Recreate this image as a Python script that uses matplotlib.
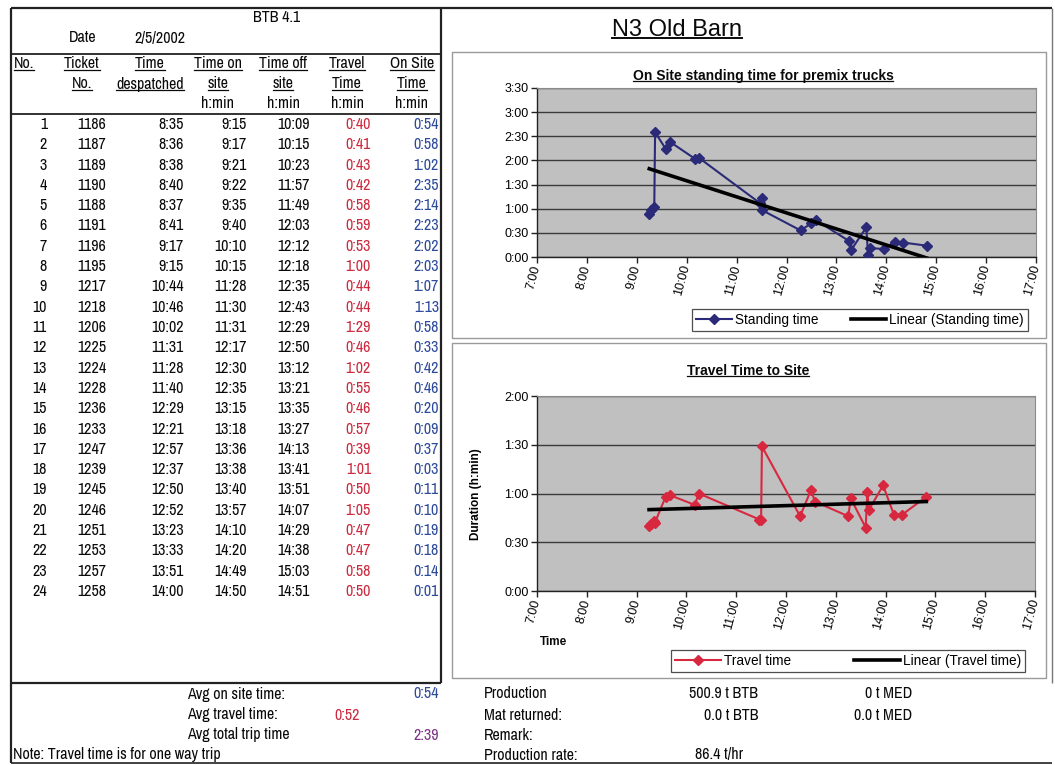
import numpy as np
import matplotlib
matplotlib.use("Agg")
import matplotlib.pyplot as plt
from matplotlib.lines import Line2D
from matplotlib.patches import Rectangle
from matplotlib.transforms import IdentityTransform
from matplotlib.ticker import MultipleLocator, FuncFormatter

W, H = 1055, 765
plt.rcParams['font.family'] = ['Archivo Narrow', 'Liberation Sans', 'DejaVu Sans']

# delivery log, BTB 4.1, 2/5/2002
ticket_no = [1186, 1187, 1189, 1190, 1188, 1191, 1196, 1195, 1217, 1218, 1206, 1225,
             1224, 1228, 1236, 1233, 1247, 1239, 1245, 1246, 1251, 1253, 1257, 1258]
time_despatched = ["8:35", "8:36", "8:38", "8:40", "8:37", "8:41", "9:17", "9:15",
                   "10:44", "10:46", "10:02", "11:31", "11:28", "11:40", "12:29", "12:21",
                   "12:57", "12:37", "12:50", "12:52", "13:23", "13:33", "13:51", "14:00"]
time_on_site = ["9:15", "9:17", "9:21", "9:22", "9:35", "9:40", "10:10", "10:15",
                "11:28", "11:30", "11:31", "12:17", "12:30", "12:35", "13:15", "13:18",
                "13:36", "13:38", "13:40", "13:57", "14:10", "14:20", "14:49", "14:50"]
time_off_site = ["10:09", "10:15", "10:23", "11:57", "11:49", "12:03", "12:12", "12:18",
                 "12:35", "12:43", "12:29", "12:50", "13:12", "13:21", "13:35", "13:27",
                 "14:13", "13:41", "13:51", "14:07", "14:29", "14:38", "15:03", "14:51"]
travel_time = ["0:40", "0:41", "0:43", "0:42", "0:58", "0:59", "0:53", "1:00",
               "0:44", "0:44", "1:29", "0:46", "1:02", "0:55", "0:46", "0:57",
               "0:39", "1:01", "0:50", "1:05", "0:47", "0:47", "0:58", "0:50"]
on_site_time = ["0:54", "0:58", "1:02", "2:35", "2:14", "2:23", "2:02", "2:03",
                "1:07", "1:13", "0:58", "0:33", "0:42", "0:46", "0:20", "0:09",
                "0:37", "0:03", "0:11", "0:10", "0:19", "0:18", "0:14", "0:01"]
n_charted = 23  # rows carried into the charts

avg_on_site = "0:54"
avg_travel = "0:52"
avg_trip = "2:39"

RED = '#cc2a3f'
BLUE = '#2d4b9a'
PURPLE = '#7b3584'
NAVY = '#2a2a78'
CRIMSON = '#d8283f'
FS = 11.5


def hours(s):
    h, m = s.split(':')
    return int(h) + int(m) / 60.0


def hmm(v, pos=None):
    total = int(round(v * 60))
    return f"{total // 60}:{total % 60:02d}"


fig = plt.figure(figsize=(W / 100, H / 100), dpi=100)
fig.patch.set_facecolor('white')


def put(x, y, s, ha='left', size=FS, color='#0a0a0a', **kw):
    return fig.text(x / W, 1 - y / H, s, ha=ha, va='center', fontsize=size,
                    color=color, **kw)


def rule(x0, y0, x1, y1, lw=1.3, color='#222222'):
    fig.add_artist(Line2D([x0 / W, x1 / W], [1 - y0 / H, 1 - y1 / H],
                          color=color, lw=lw, solid_capstyle='butt'))


underlined = []

# ---- page frame and table box
rule(11, 8, 1052, 8, lw=1.6)
rule(11, 8, 11, 763, lw=1.6)
rule(11, 763, 1052, 763, lw=1.2)
rule(1052, 8, 1052, 683, lw=1.0, color='#777777')
rule(441, 8, 441, 683, lw=1.6)
rule(11, 683, 441, 683, lw=1.6)
rule(11, 54, 441, 54, lw=1.3)
rule(11, 114, 441, 114, lw=1.3)

# ---- table header
put(277, 17, "BTB 4.1", ha='center')
put(83, 38, "Date", ha='center')
put(160, 38, "2/5/2002", ha='center')

headers = [
    (14, 'left', ["No."]),
    (82, 'center', ["Ticket", "No."]),
    (150, 'center', ["Time", "despatched"]),
    (218, 'center', ["Time on", "site", "h:min"]),
    (283, 'center', ["Time off", "site", "h:min"]),
    (347, 'center', ["Travel", "Time", "h:min"]),
    (412, 'center', ["On Site", "Time", "h:min"]),
]
header_y = [64, 84, 104]
for x, ha, lines in headers:
    for k, s in enumerate(lines):
        t = put(x, header_y[k], s, ha=ha)
        if s != "h:min":
            underlined.append(t)

# ---- table body
row_y0, row_step = 124.5, 20.3
for i in range(len(ticket_no)):
    y = row_y0 + i * row_step
    put(47, y, str(i + 1), ha='right')
    put(106, y, str(ticket_no[i]), ha='right')
    put(184, y, time_despatched[i], ha='right')
    put(247, y, time_on_site[i], ha='right')
    put(310, y, time_off_site[i], ha='right')
    put(371, y, travel_time[i], ha='right', color=RED)
    put(439, y, on_site_time[i], ha='right', color=BLUE)

# ---- averages and notes
put(187, 694, "Avg on site time:")
put(187, 715, "Avg travel time:")
put(187, 735, "Avg total trip time")
put(439, 694, avg_on_site, ha='right', color=BLUE)
put(360, 715, avg_travel, ha='right', color=RED)
put(439, 735, avg_trip, ha='right', color=PURPLE)
put(13, 755, "Note: Travel time is for one way trip")

put(484, 694, "Production")
put(484, 715, "Mat returned:")
put(484, 735, "Remark:")
put(484, 755, "Production rate:")
put(758, 694, "500.9 t BTB", ha='right')
put(912, 694, "0 t MED", ha='right')
put(758, 715, "0.0 t BTB", ha='right')
put(912, 715, "0.0 t MED", ha='right')
put(743, 755, "86.4 t/hr", ha='right')

# ---- right panel title
underlined.append(put(677, 30, "N3 Old Barn", ha='center', size=17,
                      family=['Liberation Sans', 'DejaVu Sans']))

# chart frames
for (x0, y0, x1, y1) in [(452, 52, 1046, 338), (452, 343, 1046, 678)]:
    fig.add_artist(Rectangle((x0 / W, 1 - y1 / H), (x1 - x0) / W, (y1 - y0) / H,
                             fill=False, edgecolor='#9a9a9a', lw=1.0))

x_on = np.array([hours(s) for s in time_on_site[:n_charted]])
y_stand = np.array([hours(s) for s in on_site_time[:n_charted]])
y_travel = np.array([hours(s) for s in travel_time[:n_charted]])

sans = ['Liberation Sans', 'DejaVu Sans']


def make_axes(box, ymax, series_y, color, label):
    x0, y0, x1, y1 = box
    ax = fig.add_axes([x0 / W, 1 - y1 / H, (x1 - x0) / W, (y1 - y0) / H])
    ax.set_facecolor('#c0c0c0')
    ax.set_xlim(7, 17)
    ax.set_ylim(0, ymax)
    ax.xaxis.set_major_locator(MultipleLocator(1))
    ax.yaxis.set_major_locator(MultipleLocator(0.5))
    ax.xaxis.set_major_formatter(FuncFormatter(lambda v, p: f"{int(round(v))}:00"))
    ax.yaxis.set_major_formatter(FuncFormatter(hmm))
    ax.yaxis.grid(True, color='#3a3a3a', lw=1.0)
    ax.set_axisbelow(True)
    for sp in ['top', 'right']:
        ax.spines[sp].set_color('#8a8a8a')
    for sp in ['left', 'bottom']:
        ax.spines[sp].set_color('#222222')
        ax.spines[sp].set_linewidth(1.0)
    ax.tick_params(length=4, width=1.0, color='#222222', pad=2)
    for t in ax.get_yticklabels():
        t.set_fontfamily(sans)
        t.set_fontsize(9)
    for t in ax.get_xticklabels():
        t.set_fontfamily(sans)
        t.set_fontsize(9)
        t.set_rotation(75)
        t.set_ha('right')
        t.set_va('center')
        t.set_rotation_mode('anchor')

    ax.plot(x_on, series_y, color=color, lw=1.5, marker='D', ms=5.5,
            mec=color, mfc=color, label=label, zorder=3)
    k, c = np.polyfit(x_on, series_y, 1)
    xs = np.array([x_on.min(), x_on.max()])
    ax.plot(xs, k * xs + c, color='black', lw=2.6, label=f"Linear ({label})", zorder=4)
    return ax


ax1 = make_axes((537, 88, 1036, 257), 3.5, y_stand, NAVY, "Standing time")
ax2 = make_axes((537, 396, 1035, 591), 2.0, y_travel, CRIMSON, "Travel time")

underlined.append(put(763, 76, "On Site standing time for premix trucks", ha='center',
                      size=10, weight='bold', family=sans))
underlined.append(put(748, 371, "Travel Time to Site", ha='center',
                      size=10, weight='bold', family=sans))
fig.text(476 / W, 1 - 494 / H, "Duration (h:min)", rotation=90, ha='center',
         va='center', fontsize=8.5, weight='bold', family=sans)
put(553, 642, "Time", ha='center', size=8.5, weight='bold', family=sans)

for ax, cx, cy, hl, cs in [(ax1, 860, 320, 2.6, 2.4), (ax2, 848, 661, 3.4, 4.6)]:
    leg = ax.legend(loc='center', bbox_to_anchor=(cx / W, 1 - cy / H),
                    bbox_transform=fig.transFigure, ncol=2, fancybox=False,
                    frameon=True, edgecolor='#222222',
                    prop={'family': sans, 'size': 9.8},
                    handlelength=hl, columnspacing=cs, borderpad=0.3,
                    handletextpad=0.2)
    leg.get_frame().set_linewidth(0.9)

# underline the headings
fig.canvas.draw()
renderer = fig.canvas.get_renderer()
for t in underlined:
    bb = t.get_window_extent(renderer)
    y = bb.y0 + 0.12 * bb.height
    lw = 1.4 if t.get_fontsize() > 12 else 0.9
    fig.add_artist(Line2D([bb.x0, bb.x1], [y, y], transform=IdentityTransform(),
                          color=t.get_color(), lw=lw))

fig.savefig("out.png", dpi=100, facecolor='white')
